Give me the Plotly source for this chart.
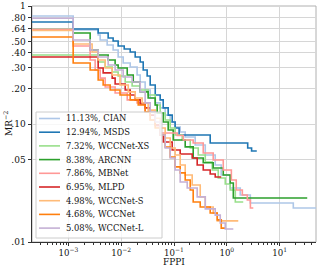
import plotly.graph_objects as go

# ---------------- data ----------------
labels = ["11.13%, CIAN", "12.94%, MSDS", "7.32%, WCCNet-XS", "8.38%, ARCNN",
          "7.86%, MBNet", "6.95%, MLPD", "4.98%, WCCNet-S", "4.68%, WCCNet",
          "5.08%, WCCNet-L"]
colors = ["#aec7e8", "#1f77b4", "#98df8a", "#2ca02c", "#ff9896", "#d62728",
          "#ffbb78", "#ff7f0e", "#c5b0d5"]

fppi_cian = [1e-4, 0.00123, 0.00366, 0.00399, 0.00542, 0.00703, 0.00875, 0.0109, 0.0148, 0.0200,
             0.0229, 0.0284, 0.0354, 0.0441, 0.0547, 0.0681, 0.0847, 0.105, 0.131, 0.163,
             0.252, 0.391, 0.604, 0.785, 1.16, 1.80, 2.79, 18.2, 60]
mr_cian = [0.823, 0.626, 0.568, 0.515, 0.467, 0.424, 0.370, 0.329, 0.304, 0.260,
           0.227, 0.194, 0.166, 0.151, 0.137, 0.119, 0.104, 0.0944, 0.0856, 0.0776,
           0.0664, 0.0546, 0.0449, 0.0370, 0.0287, 0.0250, 0.0214, 0.0194, 0.0194]

fppi_msds = [1e-4, 0.00123, 0.00366, 0.00566, 0.00703, 0.00875, 0.0114, 0.0148, 0.0184, 0.0229,
             0.0261, 0.0310, 0.0354, 0.0441, 0.0547, 0.0624, 0.0776, 0.0925, 0.105, 0.125,
             0.485, 2.49, 2.95, 3.70]
mr_msds = [0.732, 0.638, 0.590, 0.536, 0.505, 0.458, 0.432, 0.408, 0.370, 0.335,
           0.287, 0.255, 0.214, 0.176, 0.160, 0.137, 0.119, 0.104, 0.0925, 0.0807,
           0.069, 0.0626, 0.059, 0.059]

fppi_xs = [1e-4, 0.00366, 0.00497, 0.00675, 0.00875, 0.0119, 0.0161, 0.0229, 0.0324, 0.0441,
           0.0547, 0.0681, 0.0847, 0.105, 0.143, 0.203, 0.288, 0.391, 0.530, 0.689,
           0.935, 1.16, 1.45, 2.05]
mr_xs = [0.384, 0.335, 0.304, 0.276, 0.255, 0.227, 0.210, 0.194, 0.176, 0.145,
         0.124, 0.108, 0.0925, 0.0807, 0.0732, 0.0626, 0.0546, 0.0476, 0.0408, 0.0349,
         0.0310, 0.0276, 0.0218, 0.0218]

fppi_arcnn = [1e-4, 0.00123, 0.00258, 0.00366, 0.00566, 0.00767, 0.00875, 0.0130, 0.0169, 0.0229,
              0.0324, 0.0441, 0.0480, 0.0624, 0.0776, 0.0966, 0.163, 0.231, 0.358, 0.553,
              0.857, 1.16, 1.33, 33.4]
mr_arcnn = [0.632, 0.590, 0.424, 0.384, 0.349, 0.316, 0.298, 0.260, 0.227, 0.187,
            0.166, 0.145, 0.124, 0.104, 0.089, 0.0732, 0.064, 0.0515, 0.047, 0.0424,
            0.037, 0.0316, 0.0236, 0.0236]

fppi_mbnet = [1e-4, 0.00123, 0.00258, 0.00321, 0.00399, 0.00497, 0.00767, 0.0130, 0.0200, 0.0284,
              0.0354, 0.0441, 0.0547, 0.115, 0.150, 0.231, 0.358, 0.553, 0.857, 1.22,
              1.51, 1.97, 2.45, 2.80, 3.18]
mr_mbnet = [0.632, 0.458, 0.349, 0.287, 0.245, 0.206, 0.183, 0.160, 0.151, 0.126,
            0.108, 0.0944, 0.084, 0.080, 0.0732, 0.069, 0.0568, 0.0495, 0.0408, 0.0335,
            0.0276, 0.025, 0.0227, 0.0194, 0.0194]

fppi_mlpd = [1e-4, 0.00366, 0.00455, 0.00675, 0.00767, 0.0119, 0.0148, 0.0184, 0.0229, 0.0284,
             0.0354, 0.0441, 0.0547, 0.0624, 0.0925, 0.131, 0.221, 0.275, 0.358, 0.485,
             0.604, 0.785]
mr_mlpd = [0.370, 0.298, 0.271, 0.245, 0.218, 0.194, 0.176, 0.160, 0.148, 0.137,
           0.119, 0.098, 0.0807, 0.0704, 0.0602, 0.0557, 0.0515, 0.0449, 0.0408, 0.0377,
           0.0356, 0.0356]

fppi_s = [1e-4, 0.00123, 0.00281, 0.00366, 0.00497, 0.00675, 0.0095, 0.0136, 0.0184, 0.0249,
          0.0324, 0.0441, 0.0547, 0.0681, 0.0847, 0.105, 0.131, 0.163, 0.221, 0.314,
          0.391, 0.553, 0.659, 1.65]
mr_s = [0.620, 0.477, 0.408, 0.349, 0.298, 0.260, 0.214, 0.187, 0.166, 0.151,
        0.131, 0.112, 0.0925, 0.0761, 0.0626, 0.0546, 0.0449, 0.0370, 0.0304, 0.0241,
        0.0198, 0.0176, 0.0151, 0.0151]

fppi_wcc = [1e-4, 0.00123, 0.00258, 0.00366, 0.00455, 0.00618, 0.0095, 0.0148, 0.0210, 0.0284,
            0.0354, 0.0441, 0.0547, 0.0681, 0.0847, 0.105, 0.131, 0.163, 0.203, 0.231,
            0.314, 0.485, 0.659, 0.785, 0.935]
mr_wcc = [0.546, 0.329, 0.287, 0.236, 0.214, 0.194, 0.176, 0.160, 0.145, 0.126,
          0.108, 0.0925, 0.0807, 0.0638, 0.0525, 0.0433, 0.0385, 0.0335, 0.0276, 0.0218,
          0.0198, 0.0176, 0.0154, 0.0131, 0.0131]

fppi_l = [1e-4, 0.00123, 0.00258, 0.00366, 0.00566, 0.00767, 0.0109, 0.0161, 0.0229, 0.0284,
          0.0354, 0.0441, 0.0547, 0.0681, 0.0847, 0.105, 0.131, 0.178, 0.275, 0.391,
          0.604, 0.752, 0.935, 1.33]
mr_l = [0.787, 0.515, 0.424, 0.370, 0.316, 0.287, 0.250, 0.227, 0.187, 0.151,
        0.126, 0.104, 0.0807, 0.0626, 0.0515, 0.0408, 0.0322, 0.0287, 0.0241, 0.0191,
        0.0169, 0.0145, 0.0129, 0.0129]

series_x = [fppi_cian, fppi_msds, fppi_xs, fppi_arcnn, fppi_mbnet, fppi_mlpd, fppi_s, fppi_wcc, fppi_l]
series_y = [mr_cian, mr_msds, mr_xs, mr_arcnn, mr_mbnet, mr_mlpd, mr_s, mr_wcc, mr_l]

x_tickvals = [1e-3, 1e-2, 1e-1, 1, 10]
x_ticktext = ["10<sup>\u22123</sup>", "10<sup>\u22122</sup>", "10<sup>\u22121</sup>",
              "10<sup>0</sup>", "10<sup>1</sup>"]
y_tickvals = [0.01, 0.05, 0.10, 0.20, 0.30, 0.40, 0.50, 0.64, 0.80, 1.0]
y_ticktext = [".01", ".05", ".10", ".20", ".30", ".40", ".50", ".64", ".80", "1"]

# ---------------- figure ----------------
W, H = 319, 268
ML, MR_, MT, MB = 32, 3, 6, 26
PW, PH = W - ML - MR_, H - MT - MB
FONT = "DejaVu Serif"
TXT = "#111111"

def px(xp):
    return (xp - ML) / PW

def py(yp):
    return (H - MB - yp) / PH

fig = go.Figure()
for xs, ys, name, c in zip(series_x, series_y, labels, colors):
    fig.add_trace(go.Scatter(x=xs, y=ys, mode="lines", name=name,
                             line=dict(color=c, width=1.6, shape="hv"),
                             showlegend=False, hoverinfo="skip"))

minor_vals = [m * 10.0 ** e for e in range(-4, 2) for m in range(2, 10)]

axis_common = dict(type="log", showgrid=True, gridcolor="#d6d6d6", gridwidth=1,
                   zeroline=False, showline=True, linecolor="#333333", linewidth=1,
                   ticks="outside", tickwidth=1, tickcolor="#333333",
                   automargin=False)

fig.update_xaxes(range=[-3.69, 1.69], tickmode="array", tickvals=x_tickvals,
                 ticktext=x_ticktext, ticklen=2.5,
                 tickfont=dict(family=FONT, size=8.6, color=TXT),
                 minor=dict(ticks="outside", ticklen=1.5, tickcolor="#333333",
                            tickvals=minor_vals, showgrid=False),
                 **axis_common)
fig.update_yaxes(range=[-2, 0], tickmode="array", tickvals=y_tickvals, ticktext=y_ticktext,
                 ticklen=3.5, tickfont=dict(family=FONT, size=9, color=TXT),
                 **axis_common)

shapes = [dict(type="rect", xref="paper", yref="paper", x0=0, y0=0, x1=1, y1=1,
               line=dict(color="#b0b0b0", width=1), layer="below")]
annotations = [
    dict(xref="paper", yref="paper", x=0.5, y=py(262.3), xanchor="center", yanchor="middle",
         text="FPPI", showarrow=False, font=dict(family=FONT, size=9, color=TXT)),
    dict(xref="paper", yref="paper", x=px(8), y=py(124), xanchor="center", yanchor="middle",
         text="MR<sup>\u22122</sup>", textangle=-90, showarrow=False,
         font=dict(family=FONT, size=9, color=TXT)),
]

# legend drawn as a box with line samples and labels
lx0, lx1, ly0, ly1 = 36, 162, 112, 238
shapes.append(dict(type="rect", xref="paper", yref="paper",
                   x0=px(lx0), x1=px(lx1), y0=py(ly1), y1=py(ly0),
                   line=dict(color="#cccccc", width=1),
                   fillcolor="rgba(255,255,255,0.8)", layer="above"))
row0, row_h = 118.5, 13.7
for i, (name, c) in enumerate(zip(labels, colors)):
    yy = py(row0 + i * row_h)
    shapes.append(dict(type="line", xref="paper", yref="paper",
                       x0=px(39), x1=px(60), y0=yy, y1=yy,
                       line=dict(color=c, width=1.6), layer="above"))
    annotations.append(dict(xref="paper", yref="paper", x=px(64), y=yy,
                            xanchor="left", yanchor="middle", text=name,
                            showarrow=False,
                            font=dict(family=FONT, size=8.4, color=TXT)))

fig.update_layout(width=W, height=H, margin=dict(l=ML, r=MR_, t=MT, b=MB, autoexpand=False),
                  paper_bgcolor="white", plot_bgcolor="white", hovermode=False,
                  showlegend=False, shapes=shapes, annotations=annotations,
                  font=dict(family=FONT, size=9, color=TXT))

fig.write_html("out.html",
               config={"displayModeBar": False, "staticPlot": True},
               post_script="document.body.style.margin='0';"
                           "document.body.style.padding='0';"
                           "document.body.style.overflow='hidden';")
